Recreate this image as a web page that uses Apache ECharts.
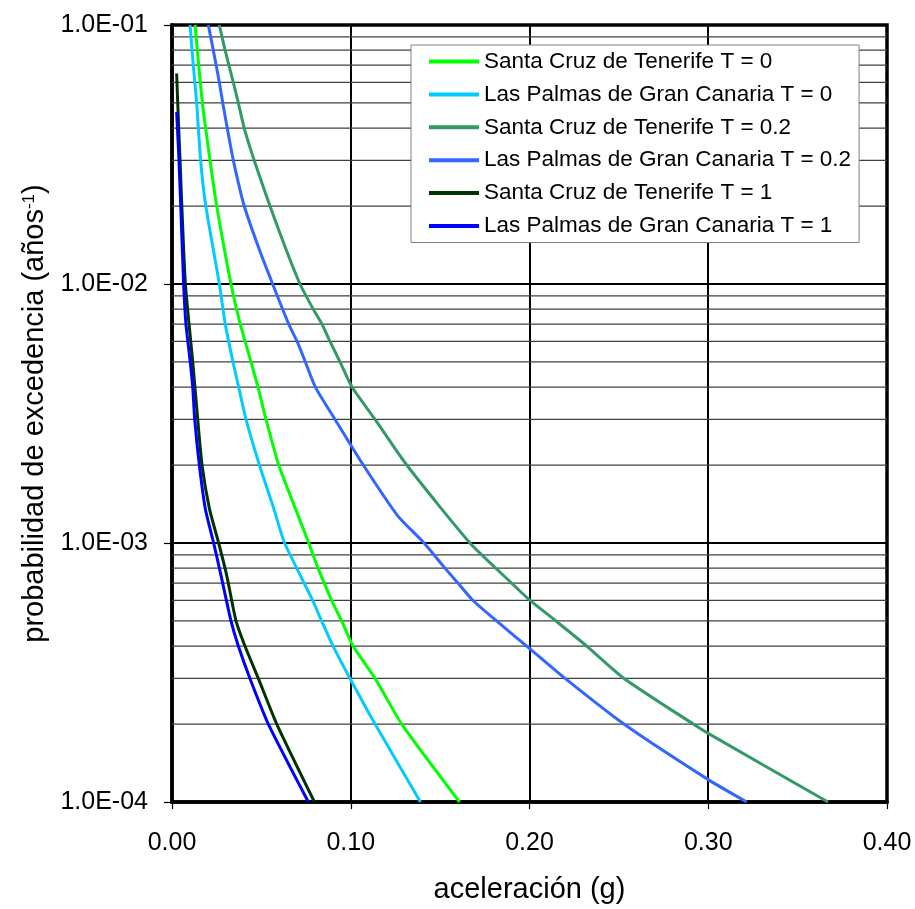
<!DOCTYPE html>
<html>
<head>
<meta charset="utf-8">
<script src="https://cdn.jsdelivr.net/npm/echarts@6/dist/echarts.min.js"></script>
<style>
  html, body { margin: 0; padding: 0; background: #fff; }
  #chart { width: 915px; height: 909px; }
</style>
</head>
<body>
<div id="chart"></div>
<script>
// ---- data (acceleration in g, annual exceedance probability) ----
const seriesNames = [
  'Santa Cruz de Tenerife T = 0',
  'Las Palmas de Gran Canaria T = 0',
  'Santa Cruz de Tenerife T = 0.2',
  'Las Palmas de Gran Canaria T = 0.2',
  'Santa Cruz de Tenerife T = 1',
  'Las Palmas de Gran Canaria T = 1'
];
const seriesColors = ['#00FF00', '#00CCFF', '#339966', '#3366FF', '#003300', '#0000FF'];

const sctT0_acc  = [0.0129, 0.0170, 0.0213, 0.0250, 0.0330, 0.0382, 0.0442, 0.0481, 0.0526, 0.0597, 0.0690, 0.0765, 0.0817, 0.0893, 0.0949, 0.1013, 0.1136, 0.1285, 0.1609];
const sctT0_prob = [1e-1, 5e-2, 3e-2, 2e-2, 1e-2, 7e-3, 5e-3, 4e-3, 3e-3, 2e-3, 1.36e-3, 1e-3, 8e-4, 6e-4, 5e-4, 4e-4, 3e-4, 2e-4, 1e-4];

const lpT0_acc  = [0.0101, 0.0119, 0.0138, 0.0160, 0.0189, 0.0265, 0.0298, 0.0341, 0.0373, 0.0414, 0.0489, 0.0569, 0.0630, 0.0787, 0.0837, 0.0901, 0.0996, 0.1136, 0.1390];
const lpT0_prob = [1e-1, 7e-2, 5e-2, 3e-2, 2e-2, 1e-2, 7e-3, 5e-3, 4e-3, 3e-3, 2e-3, 1.36e-3, 1e-3, 6e-4, 5e-4, 4e-4, 3e-4, 2e-4, 1e-4];

const sctT02_acc  = [0.0265, 0.0297, 0.0343, 0.0371, 0.0404, 0.0460, 0.0548, 0.0642, 0.0716, 0.0790, 0.0839, 0.0884, 0.0940, 0.1007, 0.1136, 0.1313, 0.1667, 0.1900, 0.2003, 0.2148, 0.2320, 0.2529, 0.2916, 0.3000, 0.3670];
const sctT02_prob = [1e-1, 8e-2, 6e-2, 5e-2, 4e-2, 3e-2, 2e-2, 1.337e-2, 1e-2, 8e-3, 7e-3, 6e-3, 5e-3, 4e-3, 3e-3, 2e-3, 1e-3, 7e-4, 6e-4, 5e-4, 4e-4, 3e-4, 2e-4, 1.84e-4, 1e-4];

const lpT02_acc  = [0.0203, 0.0231, 0.0265, 0.0284, 0.0309, 0.0343, 0.0404, 0.0492, 0.0563, 0.0653, 0.0700, 0.0746, 0.0802, 0.0912, 0.1070, 0.1264, 0.1410, 0.1527, 0.1600, 0.1684, 0.1816, 0.1984, 0.2199, 0.2528, 0.3000, 0.3215];
const lpT02_prob = [1e-1, 8e-2, 6e-2, 5e-2, 4e-2, 3e-2, 2e-2, 1.337e-2, 1e-2, 7e-3, 6e-3, 5e-3, 4e-3, 3e-3, 2e-3, 1.27e-3, 1e-3, 8e-4, 7e-4, 6e-4, 5e-4, 4e-4, 3e-4, 2e-4, 1.22e-4, 1e-4];

const sctT1_acc  = [0.0026, 0.0032, 0.0045, 0.0055, 0.0075, 0.0116, 0.0144, 0.0168, 0.0209, 0.0261, 0.0306, 0.0358, 0.0408, 0.0483, 0.0586, 0.0797];
const sctT1_prob = [6.5e-2, 5e-2, 3e-2, 2e-2, 1e-2, 5e-3, 3e-3, 2e-3, 1.36e-3, 1e-3, 7.5e-4, 5e-4, 4e-4, 3e-4, 2e-4, 1e-4];

const lpT1_acc  = [0.0026, 0.0039, 0.0049, 0.0065, 0.0078, 0.0102, 0.0116, 0.0127, 0.0153, 0.0186, 0.0233, 0.0274, 0.0330, 0.0371, 0.0436, 0.0539, 0.0763];
const lpT1_prob = [4.62e-2, 3e-2, 2e-2, 1e-2, 7e-3, 5e-3, 4e-3, 3e-3, 2e-3, 1.36e-3, 1e-3, 7.5e-4, 5e-4, 4e-4, 3e-4, 2e-4, 1e-4];

const seriesAcc  = [sctT0_acc, lpT0_acc, sctT02_acc, lpT02_acc, sctT1_acc, lpT1_acc];
const seriesProb = [sctT0_prob, lpT0_prob, sctT02_prob, lpT02_prob, sctT1_prob, lpT1_prob];

// ---- axes ----
const xTickLabels = ['0.00', '0.10', '0.20', '0.30', '0.40'];
const yTickLabels = ['1.0E-04', '1.0E-03', '1.0E-02', '1.0E-01'];
const yMinorGrid = [
  2e-4, 3e-4, 4e-4, 5e-4, 6e-4, 7e-4, 8e-4, 9e-4,
  2e-3, 3e-3, 4e-3, 5e-3, 6e-3, 7e-3, 8e-3, 9e-3,
  2e-2, 3e-2, 4e-2, 5e-2, 6e-2, 7e-2, 8e-2, 9e-2
];
const X_MIN = 0, X_MAX = 0.4;

const FONT = '"Liberation Sans", Arial, sans-serif';

const series = [];
yMinorGrid.forEach((v, k) => {
  series.push({
    name: '_minor' + k,
    type: 'line',
    data: [[X_MIN, v], [X_MAX, v]],
    symbol: 'none',
    silent: true,
    z: 1,
    lineStyle: { color: '#404040', width: 1.2 },
    emphasis: { disabled: true },
    tooltip: { show: false }
  });
});
seriesNames.forEach((name, i) => {
  series.push({
    name: name,
    type: 'line',
    data: seriesAcc[i].map((a, j) => [a, seriesProb[i][j]]),
    showSymbol: false,
    symbol: 'none',
    smooth: 0.2,
    z: 3,
    lineStyle: { color: seriesColors[i], width: 3 },
    itemStyle: { color: seriesColors[i] }
  });
});

const chart = echarts.init(document.getElementById('chart'), null, { renderer: 'canvas' });
chart.setOption({
  animation: false,
  backgroundColor: '#fff',
  textStyle: { fontFamily: FONT },
  grid: {
    left: 172, top: 25, width: 715, height: 784,
    show: true, borderColor: '#000', borderWidth: 3.5, backgroundColor: 'transparent'
  },
  legend: {
    data: seriesNames,
    orient: 'vertical',
    left: 411, top: 45,
    padding: [5, 8, 5, 18],
    itemGap: 9.9,
    itemWidth: 50,
    itemHeight: 4,
    icon: 'rect',
    backgroundColor: '#fff',
    borderColor: '#808080',
    borderWidth: 1,
    borderRadius: 0,
    selectedMode: false,
    textStyle: { fontFamily: FONT, fontSize: 22.5, color: '#000' }
  },
  xAxis: {
    type: 'value',
    min: X_MIN, max: X_MAX, interval: 0.1,
    name: 'aceleración (g)',
    nameLocation: 'middle',
    nameGap: 73,
    nameTextStyle: { fontFamily: FONT, fontSize: 29, color: '#000' },
    axisLine: { show: true, onZero: false, lineStyle: { color: '#000', width: 3.5 } },
    axisTick: { show: true, length: 7, lineStyle: { color: '#000', width: 1.2 } },
    axisLabel: {
      margin: 29, fontFamily: FONT, fontSize: 25, color: '#000',
      formatter: v => xTickLabels[Math.round(v / 0.1)]
    },
    splitLine: { show: true, lineStyle: { color: '#000', width: 2 } }
  },
  yAxis: {
    type: 'log',
    logBase: 10,
    min: 1e-4, max: 1e-1,
    name: '{a|probabilidad de excedencia (años}{s|-1}{a|)}',
    nameLocation: 'middle',
    nameRotate: 90,
    nameGap: 122,
    nameTextStyle: {
      color: '#000',
      rich: {
        a: { fontFamily: FONT, fontSize: 29, color: '#000' },
        s: { fontFamily: FONT, fontSize: 17, color: '#000', verticalAlign: 'top' }
      }
    },
    axisLine: { show: true, lineStyle: { color: '#000', width: 3.5 } },
    axisTick: { show: true, length: 8, lineStyle: { color: '#000', width: 1.2 } },
    axisLabel: {
      margin: 24, fontFamily: FONT, fontSize: 25, color: '#000',
      formatter: v => yTickLabels[Math.round(Math.log10(v)) + 4]
    },
    splitLine: { show: true, lineStyle: { color: '#000', width: 2 } },
    minorTick: { show: false },
    minorSplitLine: { show: false }
  },
  series: series
});
</script>
</body>
</html>
